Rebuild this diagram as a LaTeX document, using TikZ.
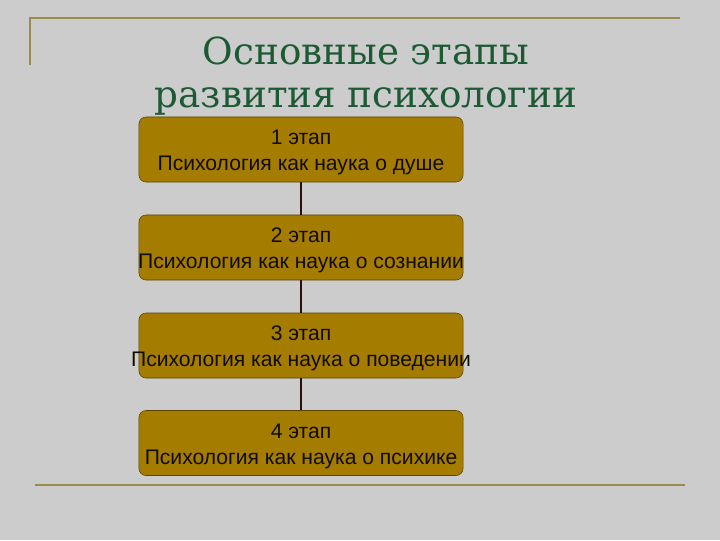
\documentclass[tikz,border=0pt]{standalone}
\usepackage{fontspec}
\setmainfont{DejaVu Serif}
\newfontfamily\boxfont{Liberation Sans}
\usepackage{tikz}

\definecolor{slidegray}{HTML}{CCCCCC}
\definecolor{rulecol}{HTML}{9A8A4C}
\definecolor{titlegreen}{HTML}{1C5A34}
\definecolor{stagefill}{HTML}{A47C00}
\definecolor{stageline}{HTML}{5A4400}
\definecolor{linkcol}{HTML}{2A1008}

\tikzset{
  stage/.style={draw=stageline, fill=stagefill, rounded corners=5pt,
    minimum width=8.1cm, minimum height=1.625cm, inner sep=0pt},
  stagetext/.style={align=center, font=\boxfont\fontsize{15}{18.4}\selectfont,
    text=black!90!stagefill, inner sep=0pt, yshift=-2.2pt},
  link/.style={draw=linkcol, line width=1.4pt}
}

\begin{document}
\begin{tikzpicture}[x=0.025cm,y=-0.025cm]

\fill[slidegray] (0,0) rectangle (720,540);
\useasboundingbox (0,0) rectangle (720,540);

% frame lines
\draw[rulecol,line width=1.3pt] (30,65) -- (30,18) -- (680,18);
\draw[rulecol,line width=1.3pt] (35,485) -- (685,485);

% title
\node[text=titlegreen, align=center, font=\fontsize{26.5}{31}\selectfont] (title) at (366,76)
  {Основные этапы\\развития психологии};

% stages
\node[stage] (s1) at (301,149.5) {};
\node[stage] (s2) at (301,247.5) {};
\node[stage] (s3) at (301,345.5) {};
\node[stage] (s4) at (301,443) {};

\node[stagetext] (t1) at (s1) {1 этап\\Психология как наука о душе};
\node[stagetext] (t2) at (s2) {2 этап\\Психология как наука о сознании};
\node[stagetext] (t3) at (s3) {3 этап\\Психология как наука о поведении};
\node[stagetext] (t4) at (s4) {4 этап\\Психология как наука о психике};

\draw[link] (s1) -- (s2);
\draw[link] (s2) -- (s3);
\draw[link] (s3) -- (s4);

\end{tikzpicture}
\end{document}
